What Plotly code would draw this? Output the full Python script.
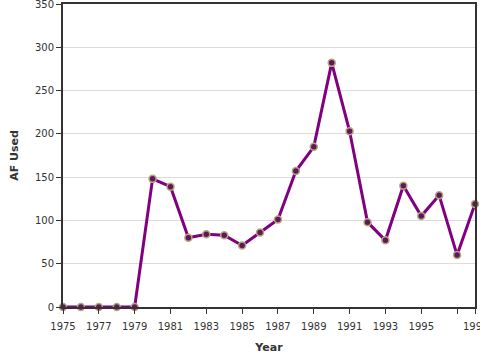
import plotly.graph_objects as go

years = list(range(1975, 1999))
af_used = [0, 0, 0, 0, 0, 148, 139, 80, 84, 83, 71, 86, 101, 157, 185, 282, 203, 98, 77, 140, 105, 129, 60, 119]
x_tickvals = [1975, 1977, 1979, 1981, 1983, 1985, 1987, 1989, 1991, 1993, 1995, 1997, 1998]
x_ticktext = ["1975", "1977", "1979", "1981", "1983", "1985", "1987", "1989", "1991", "1993", "1995", "", ""]
edge_label_year = 1998
y_tickvals = [0, 50, 100, 150, 200, 250, 300, 350]
y_ticktext = ["0", "50", "100", "150", "200", "250", "300", ""]
edge_label_y = 350

fig = go.Figure()
fig.add_trace(go.Scatter(
    x=years, y=af_used, mode="lines+markers",
    line=dict(color="#800080", width=3),
    marker=dict(size=7, color="#5c1a5c", line=dict(color="#b8a57c", width=1.5)),
    cliponaxis=False,
))

font = "DejaVu Sans"
fig.update_layout(
    width=480, height=360,
    margin=dict(l=63, r=5, t=4, b=53),
    paper_bgcolor="white", plot_bgcolor="white",
    showlegend=False,
    font=dict(family=font, size=10, color="#333"),
    xaxis=dict(
        range=[1975, 1998], tickvals=x_tickvals, ticktext=x_ticktext,
        ticks="outside", ticklen=5, tickcolor="#333", tickwidth=1,
        ticklabelstandoff=4,
        showline=True, linecolor="#333", linewidth=2, mirror=True,
        showgrid=False, zeroline=False, automargin=False,
        title=dict(text="<b>Year</b>", font=dict(size=11, family=font, color="#333"), standoff=12),
    ),
    yaxis=dict(
        range=[0, 350], tickvals=y_tickvals, ticktext=y_ticktext,
        ticks="outside", ticklen=5, tickcolor="#333", tickwidth=1,
        showline=True, linecolor="#333", linewidth=2, mirror=True,
        showgrid=True, gridcolor="#dcdcdc", gridwidth=1, zeroline=False, automargin=False,
        title=dict(text="<b>AF Used</b>", font=dict(size=11, family=font, color="#333"), standoff=14),
    ),
    annotations=[
        dict(x=edge_label_year, y=0, xref="x", yref="paper", yanchor="top", xanchor="center",
             yshift=-12, text=str(edge_label_year), showarrow=False,
             font=dict(size=10, family=font, color="#333")),
        dict(x=0, y=edge_label_y, xref="paper", yref="y", yanchor="middle", xanchor="right",
             xshift=-7, text=str(edge_label_y), showarrow=False,
             font=dict(size=10, family=font, color="#333")),
    ],
)

fig.write_html("out.html")
